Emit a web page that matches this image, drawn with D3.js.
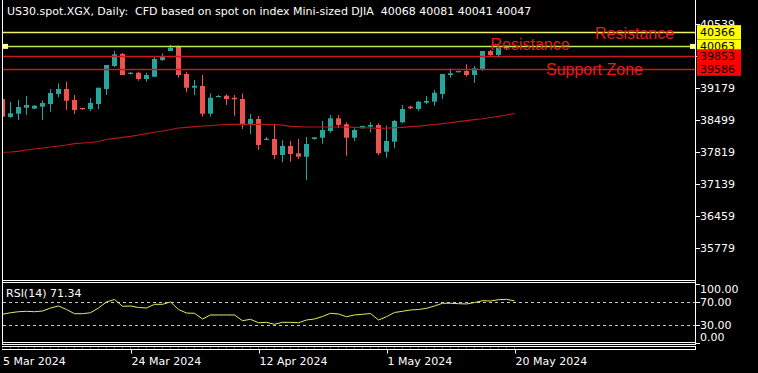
<!DOCTYPE html>
<html><head><meta charset="utf-8">
<script src="https://cdn.jsdelivr.net/npm/d3@7"></script>
<style>
html,body{margin:0;padding:0;background:#000;}
svg{display:block;}
text{font-family:"DejaVu Sans",sans-serif;}
</style></head><body>
<svg id="c" width="758" height="373"></svg>
<script>
// ---------- DATA ----------
const dates = ["2024-03-05","2024-03-06","2024-03-07","2024-03-08","2024-03-10","2024-03-11","2024-03-12","2024-03-13","2024-03-14","2024-03-15",
"2024-03-17","2024-03-18","2024-03-19","2024-03-20","2024-03-21","2024-03-22","2024-03-24","2024-03-25","2024-03-26","2024-03-27",
"2024-03-28","2024-03-31","2024-04-01","2024-04-02","2024-04-03","2024-04-04","2024-04-05","2024-04-07","2024-04-08","2024-04-09",
"2024-04-10","2024-04-11","2024-04-12","2024-04-14","2024-04-15","2024-04-16","2024-04-17","2024-04-18","2024-04-19","2024-04-21",
"2024-04-22","2024-04-23","2024-04-24","2024-04-25","2024-04-26","2024-04-28","2024-04-29","2024-04-30","2024-05-01","2024-05-02",
"2024-05-03","2024-05-05","2024-05-06","2024-05-07","2024-05-08","2024-05-09","2024-05-10","2024-05-12","2024-05-13","2024-05-14",
"2024-05-15","2024-05-16","2024-05-17","2024-05-19","2024-05-20"];
const openP  = [38945,38563,38633,38760,38739,38782,38839,39052,39158,38924,38754,38733,38839,39158,39647,39902,39476,39504,39370,39419,39774,39965,40057,39476,39185,39222,38633,38994,39015,38973,38945,38408,38520,38080,38095,37755,37947,37791,37719,38095,38123,38265,38535,38408,38123,38323,38357,38393,37825,38038,38450,38782,38733,38867,38888,39052,39455,39513,39540,39455,39583,39965,39880,40030,40068];
const highP  = [38966,38888,38924,39009,38818,38918,39158,39279,39313,39030,38754,38967,39185,39668,39972,39923,39525,39525,39504,39844,39916,40093,40082,39525,39349,39455,39066,39030,39045,39030,39066,38627,38584,38138,38408,38068,38053,38095,38138,38131,38478,38605,38605,38450,38323,38378,38450,38429,38378,38499,38818,38803,38903,39009,39137,39476,39598,39540,39683,39647,39965,39987,40035,40075,40081];
const lowP   = [38552,38548,38499,38605,38733,38499,38675,38981,38711,38627,38711,38690,38733,39030,39625,39455,39470,39334,39313,39419,39753,39965,39398,39088,39030,38569,38569,38988,38818,38590,38308,38202,37862,38068,37670,37600,37613,37670,37224,38080,37995,38229,38323,37740,38053,38323,38238,37755,37698,37898,38429,38733,38690,38833,38803,38945,39398,39513,39419,39286,39540,39865,39823,40010,40041];
const closeP = [38569,38641,38775,38818,38803,38860,39073,39158,38909,38711,38733,38860,39185,39668,39895,39455,39504,39370,39455,39795,39844,40035,39455,39185,39228,38633,38973,39009,38945,38939,38408,38520,37968,38101,37755,37947,37777,37719,37989,38131,38286,38535,38393,38123,38286,38372,38393,37791,38053,38478,38733,38748,38888,38903,39079,39476,39491,39540,39455,39598,39965,39880,40035,40060,40047];
const maValues = [37813,37819,37834,37862,37883,37904,37925,37947,37968,37995,38010,38021,38042,38085,38110,38131,38153,38180,38208,38238,38265,38297,38329,38344,38357,38372,38378,38393,38408,38408,38408,38408,38408,38408,38403,38389,38365,38357,38350,38350,38350,38350,38350,38350,38344,38335,38329,38323,38325,38334,38344,38357,38368,38386,38403,38420,38441,38463,38484,38505,38526,38552,38578,38605,38637];
const rsiValues = [48.4,51.1,52.8,53.5,52.8,54.0,59.2,62.6,56.6,49.4,49.4,51.1,59.2,69.5,73.8,62.1,62.6,60.0,59.2,65.5,65.5,69.5,56.6,50.6,50.1,40.3,47.2,47.2,47.2,47.2,37.4,39.8,33.9,34.6,31.2,34.6,34.6,33.9,38.6,40.3,44.6,50.1,48.9,44.2,47.2,48.4,49.7,38.6,44.2,51.5,53.5,55.8,56.6,58.7,62.6,67.3,67.3,66.6,66.1,68.6,71.7,71.2,73.4,74.1,71.34];
const priceTicks = [35779,36459,37139,37819,38499,39179,39859,40539];
const hiddenPriceLabels = [39859];
const rsiTicks = [100,70,30,0];
const rsiLevels = [70,30];
const dateTicks = ["2024-03-05","2024-03-24","2024-04-12","2024-05-01","2024-05-20"];
const dateTickLabels = ["5 Mar 2024","24 Mar 2024","12 Apr 2024","1 May 2024","20 May 2024"];
const levelValues = [40366,40063,39853,39586];
const annotationTexts = ["Resistance","Resistance","Support Zone"];
const annotationLevels = [40063,40366,39586];
const titleText = "US30.spot.XGX, Daily:  CFD based on spot on index Mini-sized DJIA  40068 40081 40041 40047";
const rsiTitle = "RSI(14) 71.34";

// ---------- LAYOUT ----------
const svg = d3.select("#c");
svg.append("rect").attr("width",758).attr("height",373).attr("fill","#000");
const L = 3, R = 695;
const x = d3.scalePoint().domain(dates).range([2.5, 514.5]);
const y = d3.scaleLinear().domain([35779, 40539]).range([248, 24]);
const yr = d3.scaleLinear().domain([0, 100]).range([342.5, 284.2]);

const defs = svg.append("defs");
defs.append("clipPath").attr("id","mainClip").append("rect").attr("x",L).attr("y",0).attr("width",R-L).attr("height",280);
defs.append("clipPath").attr("id","rsiClip").append("rect").attr("x",L).attr("y",283).attr("width",R-L).attr("height",59);

const bull = "#26a69a", bear = "#ef5350";
const bars = dates.map((d,i)=>({d, o:openP[i], h:highP[i], l:lowP[i], c:closeP[i]}));

const main = svg.append("g").attr("clip-path","url(#mainClip)");
// candles
const cg = main.append("g");
bars.forEach(b=>{
  const cx = x(b.d);
  const col = b.c >= b.o ? bull : bear;
  cg.append("line").attr("x1",cx).attr("x2",cx).attr("y1",y(b.h)).attr("y2",y(b.l)).attr("stroke",col).attr("stroke-width",1);
  const top = y(Math.max(b.o,b.c)), bot = y(Math.min(b.o,b.c));
  cg.append("rect").attr("x",cx-2.5).attr("y",top).attr("width",5).attr("height",Math.max(1.2,bot-top)).attr("fill",col);
});
// moving average
main.append("path").datum(maValues)
  .attr("d", d3.line().x((v,i)=>x(dates[i])).y(v=>y(v)))
  .attr("fill","none").attr("stroke","#b81818").attr("stroke-width",1.2);

// horizontal levels
const levelColors = ["#f0f060","#b8ec50","#cc1a1a","#cc1a1a"];
levelValues.forEach((v,i)=>{
  const yy = Math.round(y(v))+0.5;
  main.append("line").attr("x1",L).attr("x2",R).attr("y1",yy).attr("y2",yy).attr("stroke",levelColors[i]).attr("stroke-width",1.3);
});
// selection handles on the green line
const gy = y(levelValues[1]);
svg.append("rect").attr("x",3).attr("y",gy-2.5).attr("width",5).attr("height",5).attr("fill","#ffff90");
svg.append("rect").attr("x",690).attr("y",gy-2.5).attr("width",5).attr("height",5).attr("fill","#ffff90");

// annotation texts
const annX = [490.5, 595, 546], annDy = [4, 7, 6.5];
annotationTexts.forEach((t,i)=>{
  svg.append("text").attr("x",annX[i]).attr("y",y(annotationLevels[i])+annDy[i])
    .style("font-family","'Liberation Sans',Arial,sans-serif").style("font-size","16px")
    .attr("fill","#e81c1c").text(t);
});

// title
svg.append("text").attr("x",7).attr("y",15).attr("fill","#fff").style("font-size","11px")
  .style("white-space","pre").text(titleText);

// frame lines
const fr = svg.append("g").attr("stroke","#fff").attr("stroke-width",1);
fr.append("line").attr("x1",2.5).attr("x2",2.5).attr("y1",0).attr("y2",345);
fr.append("line").attr("x1",695.5).attr("x2",695.5).attr("y1",0).attr("y2",345);
[280.5,282.5,342.5,344.5,346.5,349.5].forEach(v=>{
  fr.append("line").attr("x1",2).attr("x2",696).attr("y1",v).attr("y2",v);
});
fr.append("line").attr("x1",695.5).attr("x2",695.5).attr("y1",346).attr("y2",350);
// small per-bar marks in time strip
bars.forEach(b=>{
  svg.append("line").attr("x1",x(b.d)).attr("x2",x(b.d)).attr("y1",347).attr("y2",349).attr("stroke","#444");
});

// price axis
priceTicks.forEach(v=>{
  const yy = Math.round(y(v))+0.5;
  svg.append("line").attr("x1",695).attr("x2",700).attr("y1",yy).attr("y2",yy).attr("stroke","#fff");
  if (hiddenPriceLabels.indexOf(v) < 0)
    svg.append("text").attr("x",700).attr("y",yy).attr("dy","0.36em").attr("fill","#fff").style("font-size","11px").text(v);
});
// level boxes on the price axis
const boxColors = ["#ffff00","#ffff00","#ff0000","#ff0000"];
levelValues.forEach((v,i)=>{
  const yy = y(v);
  svg.append("rect").attr("x",697).attr("y",yy-7).attr("width",44).attr("height",14).attr("fill",boxColors[i]);
  svg.append("text").attr("x",700).attr("y",yy).attr("dy","0.36em").attr("fill","#000").style("font-size","11px").text(v);
});

// RSI panel
const rg = svg.append("g").attr("clip-path","url(#rsiClip)");
rsiLevels.forEach(v=>{
  const yy = Math.round(yr(v))+0.5;
  rg.append("line").attr("x1",L).attr("x2",R).attr("y1",yy).attr("y2",yy)
    .attr("stroke","#c8c8c8").attr("stroke-dasharray","3,3");
});
rg.append("path").datum(rsiValues)
  .attr("d", d3.line().x((v,i)=>x(dates[i])).y(v=>yr(v)))
  .attr("fill","none").attr("stroke","#e8e860").attr("stroke-width",1);
svg.append("text").attr("x",6).attr("y",297).attr("fill","#fff").style("font-size","11px").text(rsiTitle);
rsiTicks.forEach(v=>{
  const yy = Math.round(yr(v))+0.5;
  svg.append("line").attr("x1",695).attr("x2",700).attr("y1",yy).attr("y2",yy).attr("stroke","#fff");
  const ly = Math.min(Math.max(yr(v), 289.5), 337.5);
  svg.append("text").attr("x",700).attr("y",ly).attr("dy","0.36em").attr("fill","#fff").style("font-size","11px").text(d3.format(".2f")(v));
});

// time axis
dateTicks.forEach((d,i)=>{
  const xx = Math.round(x(d))+0.5;
  if (i>0) svg.append("line").attr("x1",xx).attr("x2",xx).attr("y1",349).attr("y2",353.5).attr("stroke","#fff");
  svg.append("text").attr("x",i===0?3:xx).attr("y",365).attr("fill","#fff").style("font-size","11px").text(dateTickLabels[i]);
});
</script>
</body></html>
